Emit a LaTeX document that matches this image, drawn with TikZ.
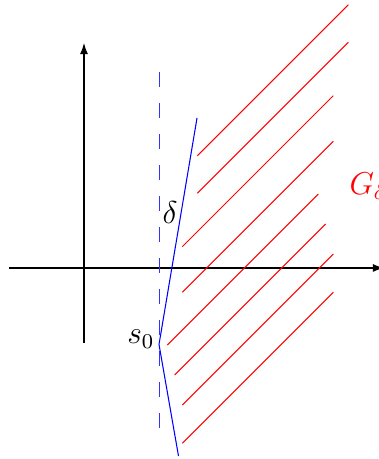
\documentclass[tikz,border=0pt]{standalone}
\usetikzlibrary{arrows.meta}
\begin{document}
\begin{tikzpicture}[x=1cm,y=1cm,
  axis/.style={-{Latex[length=4.2pt,width=3pt]}, line width=0.4pt, black},
  hatch/.style={red, line width=0.4pt},
  cone/.style={blue, line width=0.4pt},
  vdash/.style={blue!80, line width=0.7pt},
  lbl/.style={inner sep=0pt, font=\fontsize{12}{14}\selectfont}]
\clip (-1.12,-2.547) rectangle (3.933,3.573);
% axes
\coordinate (xl) at (-1,0);
\coordinate (xr) at (4,0);
\coordinate (yb) at (0,-1);
\coordinate (yt) at (0,3);
\draw[axis] (xl) -- (xr);
\draw[axis] (yb) -- (yt);
% dashed vertical guide (drawn as separate dashes)
\coordinate (gt) at (1.007,2.613);
\foreach \k in {0,...,11}
  \draw[vdash] ([yshift=-\k*0.4133cm]gt) -- ++(0,-0.2);
% hatch lines
\foreach \x/\y in {1.511/1.497, 1.511/0.996, 1.311/0.284, 1.311/-0.324,
                   1.111/-1.027, 1.209/-1.427, 1.311/-1.827, 1.311/-2.337}
  \draw[hatch] (\x,\y) -- ++(2.013,2.013);
% cone boundary
\coordinate (s0) at (1,-1.02);
\coordinate (ctop) at (1.507,2);
\coordinate (cbot) at (1.26,-2.507);
\draw[cone] (cbot) -- (s0) -- (ctop);
% labels
\node[lbl, anchor=base] (delta) at (1.147,0.596) {$\delta$};
\node[lbl, anchor=base east] (s0lbl) at (0.947,-1.004) {$s_0$};
\node[lbl, anchor=base west, text=red] (G) at (3.533,0.973) {$G_\delta$};
\end{tikzpicture}
\end{document}
